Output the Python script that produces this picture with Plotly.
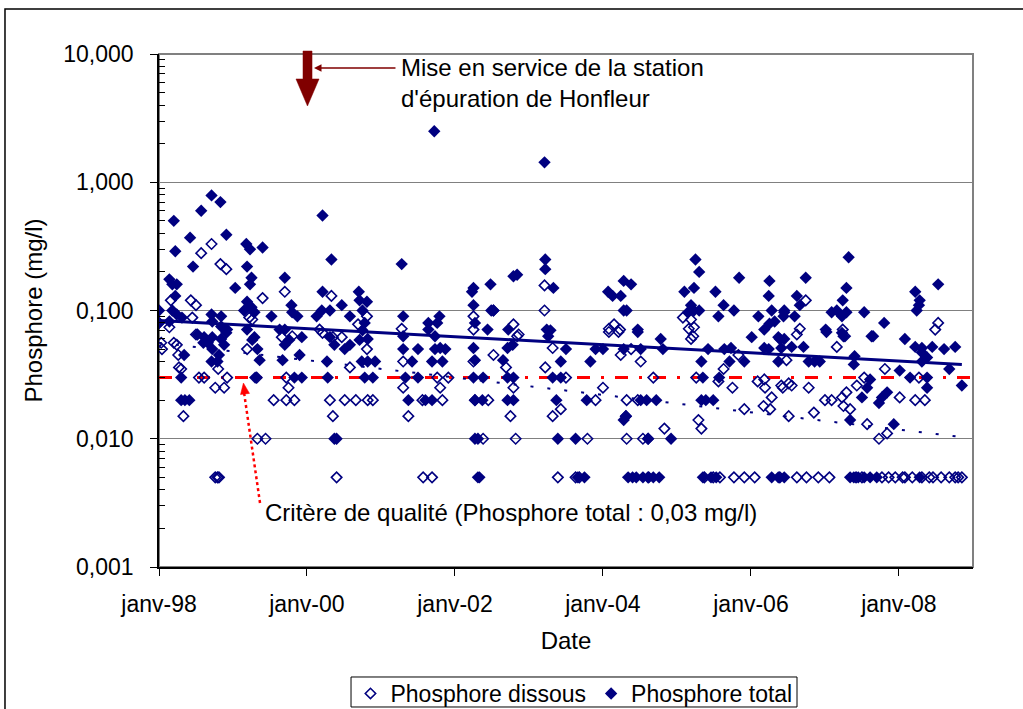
import pandas as pd
import plotly.graph_objects as go

# ---------------- data ----------------
total_year = [
    1998.00, 1998.00, 1998.14, 1998.18, 1998.24, 1998.22, 1998.20, 1998.22, 1998.18, 1998.24, 1998.31, 1998.14,
    1998.42, 1998.46, 1998.57, 1998.71, 1998.83, 1998.91, 1999.03, 1998.71, 1998.84, 1998.72, 1998.84, 1998.92,
    1998.61, 1998.72, 1998.84, 1998.91, 1998.30, 1998.30, 1998.35, 1998.41, 1998.60, 1998.66, 1998.71, 1998.79,
    1998.72, 1998.81, 1998.88, 1998.52, 1998.34,
    1999.15, 1999.19, 1999.29, 1999.19, 1999.25, 1999.29, 1999.18, 1999.23, 1999.40, 1999.19, 1999.25, 1999.23,
    1999.70, 1999.52, 1999.63, 1999.70, 1999.79, 1999.80, 1999.87, 1999.93, 1999.30, 1999.26, 1999.33, 1999.36,
    1999.83, 1999.93, 1999.70, 1999.76, 1999.90, 1999.67,
    2000.13, 2000.20, 2000.31, 2000.31, 2000.21, 2000.33, 2000.21, 2000.47, 2000.70, 2000.58, 2000.71, 2000.75,
    2000.81, 2000.28, 2000.27, 2000.37, 2000.51, 2000.58, 2000.71, 2000.37, 2000.40, 2000.82, 2000.74, 2000.82,
    2000.92, 2000.78, 2000.89, 2000.78, 2000.75,
    2001.28, 2001.30, 2001.30, 2001.30, 2001.50, 2001.42, 2001.33, 2001.50, 2001.37, 2001.60, 2001.69, 2001.64,
    2001.64, 2001.79, 2001.76, 2001.73, 2001.73, 2001.80, 2001.87, 2001.83, 2001.69, 2001.72,
    2002.25, 2002.23, 2002.25, 2002.48, 2002.49, 2002.52, 2002.27, 2002.44, 2002.72, 2002.79, 2002.84, 2002.25,
    2002.27, 2002.25, 2002.38, 2002.27, 2002.37, 2002.27, 2002.31, 2002.31, 2002.33, 2002.71, 2002.78, 2002.65,
    2002.71, 2002.79, 2002.71, 2002.79,
    2003.21, 2003.22, 2003.22, 2003.33, 2003.24, 2003.29, 2003.26, 2003.50, 2003.43, 2003.32, 2003.43, 2003.37,
    2003.39, 2003.63, 2003.66, 2003.75, 2003.78, 2003.90, 2004.00, 2003.83,
    2004.07, 2004.13, 2004.24, 2004.28, 2004.38, 2004.28, 2004.32, 2004.47, 2004.78, 2004.47, 2004.28, 2004.51,
    2004.81, 2004.28, 2004.31, 2004.51, 2004.59, 2004.72, 2004.61, 2004.92, 2004.34, 2004.40, 2004.45, 2004.54,
    2004.62, 2004.68, 2004.76,
    2005.19, 2005.23, 2005.30, 2005.15, 2005.25, 2005.30, 2005.23, 2005.10, 2005.52, 2005.63, 2005.77, 2005.56,
    2005.84, 2005.33, 2005.42, 2005.64, 2005.73, 2005.71, 2005.91, 2005.35, 2005.57, 2005.33, 2005.39, 2005.49,
    2005.35, 2005.46, 2005.53, 2006.01, 2006.10,
    2006.25, 2006.24, 2006.28, 2006.45, 2006.44, 2006.32, 2006.25, 2006.18, 2006.39, 2006.62, 2006.66, 2006.74,
    2006.45, 2006.59, 2006.45, 2006.55, 2006.71, 2006.18, 2006.24, 2006.37, 2006.41, 2006.37, 2006.78, 2006.86,
    2006.93, 2006.28, 2006.37, 2006.45,
    2007.32, 2007.29, 2007.24, 2007.09, 2007.16, 2007.23, 2007.29, 2007.53, 2007.80, 2007.01, 2007.25, 2007.65,
    2007.02, 2007.23, 2007.63, 2007.40, 2007.39, 2007.61, 2007.57, 2007.50, 2007.77, 2007.84, 2007.73, 2007.34,
    2007.93, 2007.34, 2007.39, 2007.45, 2007.53, 2007.61, 2007.70,
    2008.53, 2008.22, 2008.28, 2008.27, 2008.24, 2008.08, 2008.22, 2008.31, 2008.45, 2008.61, 2008.76, 2008.31,
    2008.38, 2008.31, 2008.01, 2008.15, 2008.68, 2008.38, 2008.38, 2008.85, 2008.28,
]
total_mgl = [
    0.10, 0.08, 0.175, 0.16, 0.16, 0.13, 0.50, 0.29, 0.10, 0.093, 0.088, 0.082,
    0.37, 0.22, 0.60, 0.79, 0.70, 0.39, 0.15, 0.093, 0.09, 0.082, 0.075, 0.071,
    0.062, 0.062, 0.06, 0.067, 0.03, 0.02, 0.02, 0.02, 0.056, 0.056, 0.04, 0.04,
    0.05, 0.045, 0.054, 0.065, 0.045,
    0.10, 0.071, 0.062, 0.117, 0.106, 0.097, 0.33, 0.30, 0.31, 0.22, 0.18, 0.16,
    0.18, 0.09, 0.071, 0.071, 0.11, 0.097, 0.09, 0.062, 0.03, 0.059, 0.05, 0.041,
    0.03, 0.03, 0.054, 0.059, 0.045, 0.041,
    0.09, 0.10, 0.10, 0.062, 0.55, 0.25, 0.14, 0.11, 0.14, 0.09, 0.12, 0.10,
    0.117, 0.03, 0.04, 0.054, 0.05, 0.054, 0.059, 0.01, 0.01, 0.06, 0.04, 0.04,
    0.04, 0.03, 0.03, 0.08, 0.07,
    0.23, 0.09, 0.063, 0.05, 0.05, 0.04, 0.03, 0.03, 0.02, 0.02, 0.02, 0.08,
    0.071, 0.09, 0.08, 0.063, 0.05, 0.051, 0.05, 0.04, 0.04, 2.5,
    0.15, 0.14, 0.11, 0.16, 0.10, 0.10, 0.08, 0.071, 0.071, 0.185, 0.19, 0.051,
    0.041, 0.03, 0.03, 0.02, 0.02, 0.01, 0.01, 0.005, 0.005, 0.051, 0.054, 0.041,
    0.03, 0.03, 0.02, 0.02,
    1.43, 0.25, 0.21, 0.15, 0.071, 0.07, 0.063, 0.05, 0.04, 0.03, 0.03, 0.02,
    0.01, 0.01, 0.005, 0.005, 0.02, 0.05, 0.05, 0.04,
    0.14, 0.13, 0.13, 0.17, 0.16, 0.10, 0.10, 0.071, 0.06, 0.068, 0.05, 0.05,
    0.05, 0.014, 0.015, 0.02, 0.02, 0.02, 0.01, 0.01, 0.005, 0.005, 0.005, 0.005,
    0.005, 0.005, 0.005,
    0.11, 0.10, 0.10, 0.097, 0.25, 0.20, 0.15, 0.14, 0.14, 0.11, 0.10, 0.09,
    0.18, 0.04, 0.05, 0.05, 0.051, 0.04, 0.04, 0.03, 0.03, 0.02, 0.02, 0.02,
    0.005, 0.005, 0.005, 0.062, 0.09,
    0.17, 0.13, 0.10, 0.10, 0.09, 0.082, 0.079, 0.071, 0.06, 0.13, 0.11, 0.18,
    0.097, 0.09, 0.06, 0.052, 0.052, 0.051, 0.05, 0.062, 0.051, 0.04, 0.04, 0.04,
    0.04, 0.005, 0.005, 0.005,
    0.26, 0.15, 0.12, 0.097, 0.10, 0.09, 0.097, 0.097, 0.08, 0.071, 0.063, 0.063,
    0.068, 0.067, 0.063, 0.044, 0.038, 0.029, 0.025, 0.021, 0.021, 0.023, 0.019, 0.014,
    0.013, 0.005, 0.005, 0.005, 0.005, 0.005, 0.005,
    0.16, 0.14, 0.12, 0.11, 0.10, 0.06, 0.052, 0.051, 0.052, 0.05, 0.052, 0.047,
    0.043, 0.04, 0.034, 0.03, 0.035, 0.03, 0.025, 0.026, 0.005,
]

dissous_year = [
    1998.00, 1998.14, 1998.03, 1998.20, 1998.24, 1998.04, 1998.26, 1998.27, 1998.30, 1998.33, 1998.16, 1998.43,
    1998.50, 1998.45, 1998.50, 1998.71, 1998.57, 1998.83, 1998.91, 1998.54, 1998.61, 1998.80, 1998.92, 1998.76,
    1998.88, 1998.76, 1998.79, 1998.81,
    1999.22, 1999.26, 1999.40, 1999.70, 1999.66, 1999.80, 1999.19, 1999.32, 1999.55, 1999.72, 1999.83, 1999.72,
    1999.75, 1999.33, 1999.44,
    2000.17, 2000.33, 2000.47, 2000.69, 2000.21, 2000.35, 2000.31, 2000.35, 2000.51, 2000.66, 2000.82, 2000.58,
    2000.40, 2000.81, 2000.81, 2000.89,
    2001.30, 2001.30, 2001.37, 2001.56, 2001.83, 2001.76, 2001.91, 2001.80, 2001.57, 2001.69, 2001.28,
    2002.25, 2002.25, 2002.52, 2002.79, 2002.86, 2002.25, 2002.27, 2002.45, 2002.52, 2002.38, 2002.69, 2002.79,
    2002.75, 2002.82, 2002.84,
    2003.21, 2003.21, 2003.32, 2003.22, 2003.32, 2003.43, 2003.39, 2003.63, 2003.50, 2003.68,
    2004.08, 2004.15, 2004.23, 2004.08, 2004.21, 2004.24, 2004.51, 2004.38, 2004.68, 2004.00, 2003.90, 2004.32,
    2004.47, 2004.31, 2004.83, 2003.79, 2004.32, 2004.54, 2004.61, 2004.61,
    2005.08, 2005.19, 2005.16, 2005.23, 2005.19, 2005.22, 2005.26, 2005.56, 2005.63, 2005.29, 2005.33, 2005.75,
    2005.83, 2005.91, 2005.37, 2005.58, 2005.77, 2005.91, 2006.05, 2005.49,
    2006.17, 2006.26, 2006.09, 2006.18, 2006.19, 2006.28, 2006.43, 2006.51, 2006.51, 2006.48, 2006.41, 2006.55,
    2006.78, 2006.74, 2006.66, 2006.62, 2006.85, 2006.62, 2006.75, 2006.91, 2007.06, 2006.39,
    2007.24, 2007.16, 2007.27, 2007.43, 2007.53, 2007.00, 2007.09, 2007.23, 2007.29, 2007.25, 2007.34, 2007.57,
    2007.81, 2008.01, 2007.73, 2007.84, 2007.77, 2007.95, 2007.42, 2007.50, 2007.86,
    2008.53, 2008.49, 2008.22, 2008.35, 2008.27, 2008.08, 2008.18, 2008.41, 2008.05, 2008.31, 2008.46, 2008.57,
    2008.68, 2008.76, 2008.80, 2008.85,
]
dissous_mgl = [
    0.08, 0.074, 0.056, 0.056, 0.054, 0.05, 0.045, 0.036, 0.035, 0.015, 0.12, 0.12,
    0.11, 0.088, 0.065, 0.33, 0.28, 0.23, 0.21, 0.03, 0.03, 0.035, 0.03, 0.025,
    0.025, 0.005, 0.005, 0.005,
    0.088, 0.085, 0.125, 0.14, 0.062, 0.063, 0.05, 0.03, 0.02, 0.02, 0.02, 0.03,
    0.025, 0.01, 0.01,
    0.071, 0.13, 0.062, 0.078, 0.067, 0.062, 0.02, 0.015, 0.02, 0.02, 0.02, 0.036,
    0.005, 0.09, 0.05, 0.02,
    0.04, 0.025, 0.015, 0.02, 0.02, 0.03, 0.03, 0.025, 0.005, 0.005, 0.072,
    0.09, 0.071, 0.10, 0.078, 0.065, 0.04, 0.02, 0.02, 0.045, 0.01, 0.036, 0.025,
    0.015, 0.01, 0.063,
    0.157, 0.10, 0.051, 0.036, 0.015, 0.017, 0.005, 0.005, 0.03, 0.005,
    0.072, 0.078, 0.071, 0.068, 0.068, 0.045, 0.04, 0.05, 0.03, 0.025, 0.02, 0.02,
    0.02, 0.015, 0.012, 0.01, 0.01, 0.01, 0.01, 0.005,
    0.088, 0.085, 0.072, 0.074, 0.06, 0.063, 0.03, 0.028, 0.035, 0.014, 0.012, 0.025,
    0.045, 0.017, 0.005, 0.005, 0.005, 0.005, 0.005, 0.005,
    0.018, 0.017, 0.028, 0.029, 0.025, 0.021, 0.025, 0.027, 0.015, 0.041, 0.026, 0.026,
    0.025, 0.12, 0.072, 0.065, 0.016, 0.005, 0.005, 0.005, 0.005, 0.005,
    0.071, 0.052, 0.063, 0.026, 0.03, 0.02, 0.02, 0.021, 0.023, 0.018, 0.017, 0.013,
    0.035, 0.021, 0.01, 0.011, 0.005, 0.005, 0.005, 0.005, 0.005,
    0.08, 0.071, 0.02, 0.02, 0.03, 0.005, 0.005, 0.005, 0.005, 0.005, 0.005, 0.005,
    0.005, 0.005, 0.005, 0.005,
]

# exponential trend lines (end values)
trend_total_year = [1998.00, 2008.85]
trend_total_mgl = [0.0835, 0.038]
trend_dissous_year = [1998.00, 2008.80]
trend_dissous_mgl = [0.056, 0.0104]

critere_mgl = 0.03  # quality criterion, total phosphorus

x_range = ["1998-01-01", "2009-01-01"]
x_tick_dates = ["1998-01-01", "2000-01-01", "2002-01-01", "2004-01-01", "2006-01-01", "2008-01-01"]
x_tick_labels = ["janv-98", "janv-00", "janv-02", "janv-04", "janv-06", "janv-08"]
y_tick_vals = [0.001, 0.01, 0.1, 1, 10]
y_tick_labels = ["0,001", "0,010", "0,100", "1,000", "10,000"]

# ---------------- helpers ----------------
BASE = pd.Timestamp("1998-01-01")


def to_dates(years):
    return [BASE + pd.Timedelta(days=(y - 1998.0) * 365.25) for y in years]


NAVY = "#000080"
RED = "#FF0000"
MAROON = "#800000"
FONT = "Liberation Sans, Arial, sans-serif"

fig = go.Figure()

# quality criterion line
fig.add_trace(go.Scatter(
    x=[pd.Timestamp(x_range[0]), pd.Timestamp(x_range[1])], y=[critere_mgl, critere_mgl],
    mode="lines", line=dict(color=RED, width=3, dash="13px,11px,3px,11px"),
    showlegend=False, hoverinfo="skip"))

fig.add_trace(go.Scatter(
    x=to_dates(dissous_year), y=dissous_mgl, mode="markers", name="Phosphore dissous",
    marker=dict(symbol="diamond-open", size=8, color=NAVY, line=dict(color=NAVY, width=1.6))))

fig.add_trace(go.Scatter(
    x=to_dates(total_year), y=total_mgl, mode="markers", name="Phosphore total",
    marker=dict(symbol="diamond", size=9.5, color=NAVY, line=dict(width=0))))

fig.add_trace(go.Scatter(
    x=to_dates(trend_total_year), y=trend_total_mgl, mode="lines",
    line=dict(color=NAVY, width=3), showlegend=False, hoverinfo="skip"))

fig.add_trace(go.Scatter(
    x=to_dates(trend_dissous_year), y=trend_dissous_mgl, mode="lines",
    line=dict(color=NAVY, width=2, dash="3px,14px"), showlegend=False, hoverinfo="skip"))

minor_vals = [m * 10.0 ** e for e in range(-3, 1) for m in range(2, 10)]

fig.update_xaxes(
    type="date", range=x_range, tickmode="array", tickvals=x_tick_dates, ticktext=x_tick_labels,
    ticks="outside", ticklen=7, tickwidth=1, tickcolor="black",
    showline=True, linecolor="black", linewidth=1.5, showgrid=False, zeroline=False,
    tickfont=dict(family=FONT, size=23, color="black"), ticklabelstandoff=9, automargin=False,
    title=dict(text="Date", font=dict(family=FONT, size=24, color="black"), standoff=16),
)
fig.update_yaxes(
    type="log", range=[-3, 1], tickmode="array", tickvals=y_tick_vals, ticktext=y_tick_labels,
    ticks="outside", ticklen=7, tickwidth=1, tickcolor="black",
    minor=dict(tickmode="array", tickvals=minor_vals, ticks="inside", ticklen=6,
               tickcolor="black", tickwidth=1, showgrid=False),
    showline=True, linecolor="black", linewidth=1.5, showgrid=True, gridcolor="#808080",
    gridwidth=1.2, zeroline=False, automargin=False,
    tickfont=dict(family=FONT, size=23, color="black"), ticklabelstandoff=12,
    title=dict(text="Phosphore (mg/l)", font=dict(family=FONT, size=24, color="black"), standoff=14),
)

shapes = [
    # outer chart frame (right and bottom edges fall outside the picture)
    dict(type="rect", xref="paper", yref="paper", x0=-0.1892, y0=-0.60, x1=1.40, y1=1.0877,
         line=dict(color="black", width=1.5), fillcolor="rgba(0,0,0,0)", layer="below"),
    # plot area border (gray)
    dict(type="rect", xref="paper", yref="paper", x0=0, y0=0, x1=1, y1=1,
         line=dict(color="#808080", width=2), fillcolor="rgba(0,0,0,0)", layer="below"),
    # legend box
    dict(type="rect", xref="paper", yref="paper", x0=0.2359, y0=-0.2729, x1=0.7838, y1=-0.2144,
         line=dict(color="black", width=1), fillcolor="white", layer="below"),
    # block arrow (mise en service)
    dict(type="path", xref="paper", yref="paper",
         path="M 0.1769 1.0058 L 0.1880 1.0058 L 0.1880 0.9513 L 0.1966 0.9513 "
              "L 0.1824 0.8986 L 0.1683 0.9513 L 0.1769 0.9513 Z",
         fillcolor=MAROON, line=dict(color=MAROON, width=0.5), layer="above"),
    # red dotted pointer to the criterion line
    dict(type="line", xref="paper", yref="paper", x0=0.1241, y0=0.1248, x1=0.1044, y1=0.3411,
         line=dict(color=RED, width=2.5, dash="dot"), layer="above"),
    dict(type="path", xref="paper", yref="paper",
         path="M 0.1037 0.3587 L 0.1112 0.3384 L 0.1001 0.3361 Z",
         fillcolor=RED, line=dict(color=RED, width=0.5), layer="above"),
]

annotations = [
    dict(text="Mise en service de la station<br>d'épuration de Honfleur",
         xref="paper", yref="paper", x=0.2948, y=0.9425, xanchor="left", yanchor="middle",
         align="left", showarrow=False, font=dict(family=FONT, size=24, color="black")),
    dict(text="", xref="paper", yref="paper", x=0.1904, y=0.9727, ax=83, ay=0,
         showarrow=True, arrowhead=2, arrowsize=1, arrowwidth=1.5, arrowcolor=MAROON),
    dict(text="Critère de qualité (Phosphore total : 0,03 mg/l)",
         xref="paper", yref="paper", x=0.1278, y=0.1053, xanchor="left", yanchor="middle",
         showarrow=False, font=dict(family=FONT, size=24, color="black")),
]

fig.update_layout(
    width=1023, height=709, autosize=False,
    margin=dict(l=159, r=50, t=54, b=142, pad=0, autoexpand=False),
    paper_bgcolor="white", plot_bgcolor="white",
    font=dict(family=FONT, size=24, color="black"),
    shapes=shapes, annotations=annotations,
    legend=dict(orientation="h", x=0.5098, y=-0.2047, xanchor="center", yanchor="top",
                borderwidth=0, bgcolor="rgba(0,0,0,0)",
                font=dict(family=FONT, size=23, color="black"),
                itemwidth=30, tracegroupgap=0),
    showlegend=True,
)

fig.write_html("out.html", config={"displayModeBar": False},
               post_script="document.body.style.margin='0';document.body.style.overflow='hidden';")
